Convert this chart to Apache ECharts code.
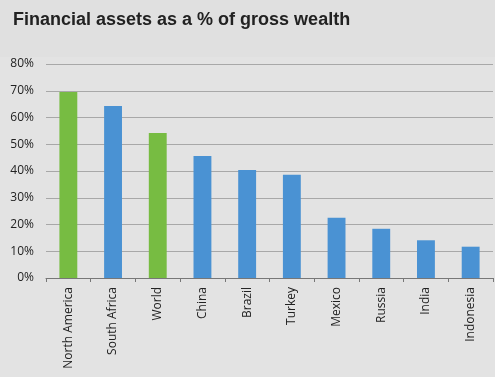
<!DOCTYPE html>
<html>
<head>
<meta charset="utf-8">
<title>Financial assets as a % of gross wealth</title>
<script src="https://cdn.jsdelivr.net/npm/echarts@6/dist/echarts.min.js"></script>
<style>
  html, body { margin: 0; padding: 0; background: #e0e0e0; }
  #main { width: 495px; height: 377px; }
</style>
</head>
<body>
<div id="main"></div>
<script type="text/javascript">
var categories = ['North America', 'South Africa', 'World', 'China', 'Brazil', 'Turkey', 'Mexico', 'Russia', 'India', 'Indonesia'];
var values = [69.5, 64.3, 54.2, 45.6, 40.4, 38.6, 22.5, 18.4, 14.1, 11.7];
var highlighted = ['North America', 'World'];

var green = '#77bc42';
var blue = '#4a92d3';

var myChart = echarts.init(document.getElementById('main'));

var barData = values.map(function (v, i) {
    return {
        value: v,
        itemStyle: { color: highlighted.indexOf(categories[i]) >= 0 ? green : blue }
    };
});

var option = {
    backgroundColor: '#e0e0e0',
    animation: false,
    graphic: [{
        type: 'rect',
        z: -10,
        shape: { x: 0, y: 57, width: 495, height: 320 },
        style: { fill: '#e3e3e3' }
    }],
    title: {
        text: 'Financial assets as a % of gross wealth',
        left: 8,
        top: 6,
        textStyle: {
            fontFamily: 'Liberation Sans',
            fontSize: 18,
            fontWeight: 'bold',
            color: '#222'
        }
    },
    grid: { left: 46, right: 2, top: 64, bottom: 99 },
    xAxis: {
        type: 'category',
        data: categories,
        axisLine: { lineStyle: { color: '#777', width: 1 } },
        axisTick: { show: true, length: 4, lineStyle: { color: '#777' } },
        axisLabel: {
            rotate: 90,
            interval: 0,
            margin: 9,
            fontFamily: 'Open Sans',
            fontSize: 12,
            color: '#222'
        }
    },
    yAxis: {
        type: 'value',
        min: 0,
        max: 80,
        interval: 10,
        axisLine: { show: false },
        axisTick: { show: false },
        splitLine: { lineStyle: { color: '#a8a8a8', width: 1 } },
        axisLabel: {
            formatter: '{value}%',
            margin: 12,
            fontFamily: 'Open Sans',
            fontSize: 12,
            color: '#222'
        }
    },
    series: [{
        type: 'bar',
        data: barData,
        barWidth: '40%'
    }]
};

myChart.setOption(option);
</script>
</body>
</html>
